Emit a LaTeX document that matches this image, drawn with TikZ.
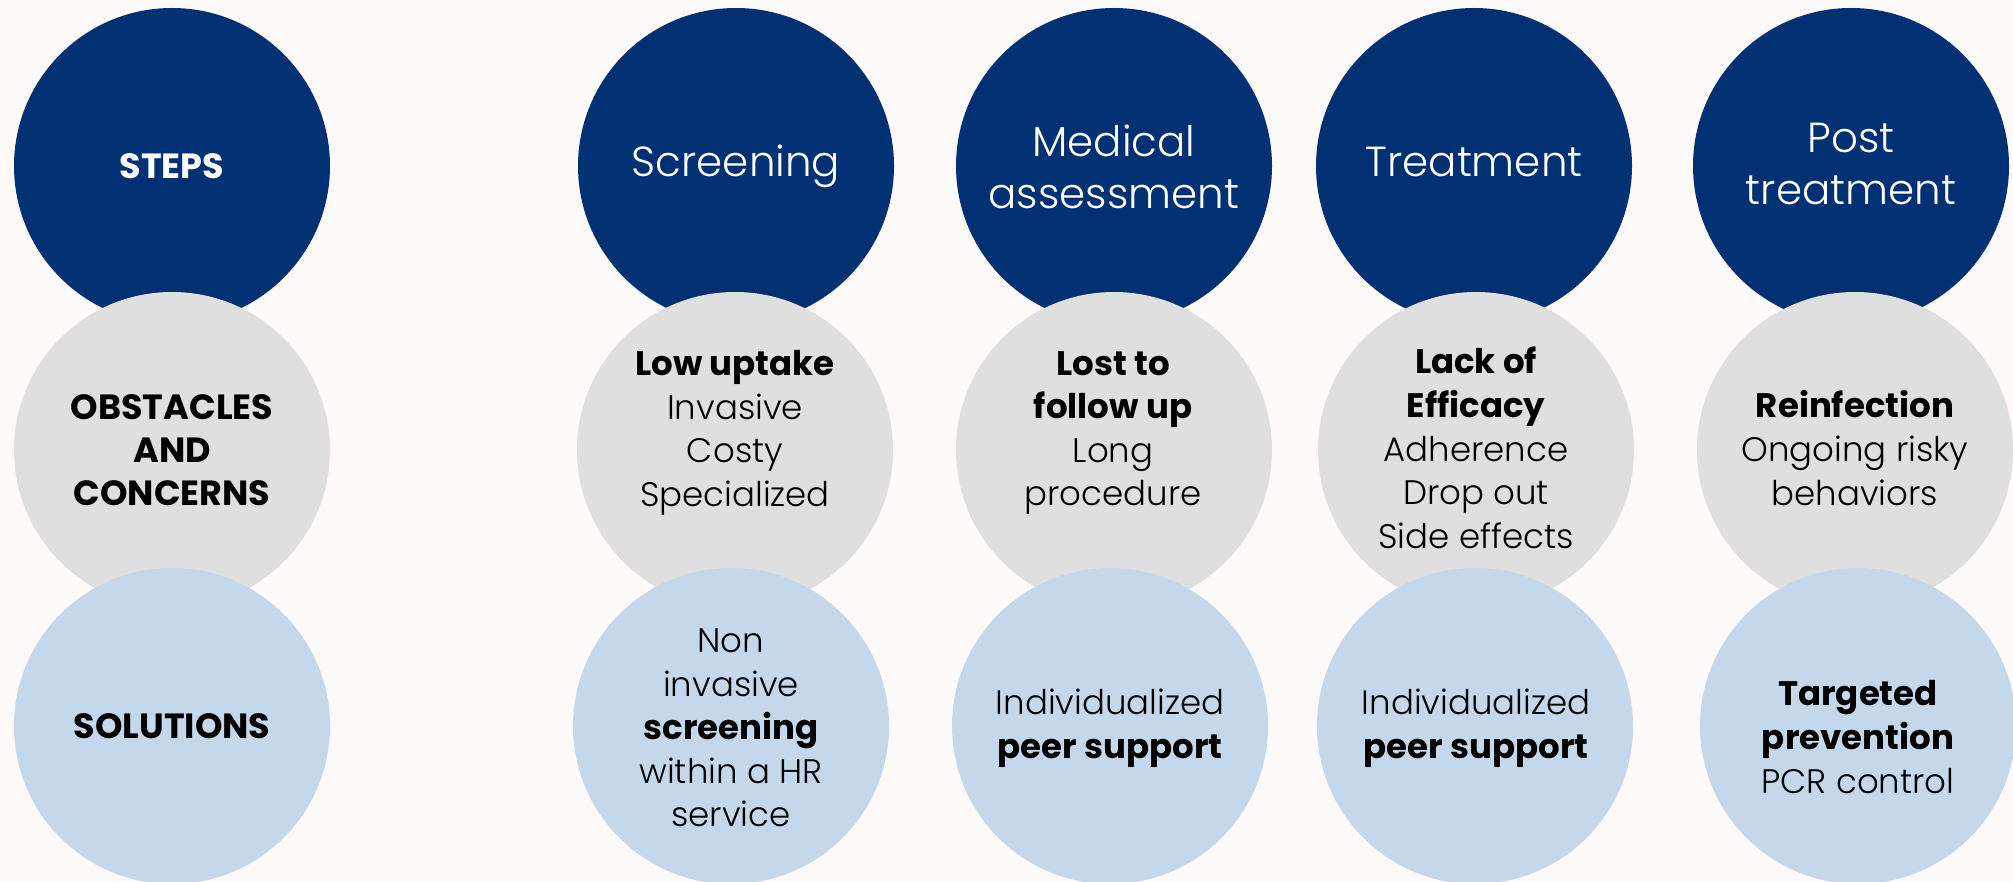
\documentclass[tikz,border=0pt]{standalone}
\usepackage{fontspec}
\setmainfont{Poppins}[UprightFont=* Light, BoldFont=* Bold]
\usetikzlibrary{positioning}

\definecolor{stepblue}{HTML}{023173}
\definecolor{obstgray}{HTML}{DFDFDF}
\definecolor{solblue}{HTML}{C5D8EB}
\definecolor{pagebg}{HTML}{FEFAF9}

\tikzset{
	disc/.style={circle, minimum size=158pt, inner sep=0pt},
	stepdisc/.style={disc, fill=stepblue},
	obstdisc/.style={disc, fill=obstgray},
	soldisc/.style={disc, fill=solblue},
	rowhead/.style={align=center, text=black, font=\fontsize{17.5}{21.5}\selectfont\bfseries},
	steptxt/.style={align=center, text=white, font=\fontsize{21}{26}\selectfont},
	celltxt/.style={align=center, text=black, font=\fontsize{17}{21.8}\selectfont},
}

\begin{document}
\begin{tikzpicture}[x=0.5pt, y=-0.5pt]
		\fill[pagebg] (0,0) rectangle (2013,882);
		\useasboundingbox (0,0) rectangle (2013,882);

		% top row: the steps
		\node[stepdisc] (steps)  at (172,166)  {};
		\node[stepdisc] (screen) at (736,166)  {};
		\node[stepdisc] (assess) at (1114,166) {};
		\node[stepdisc] (treat)  at (1474,166) {};
		\node[stepdisc] (post)   at (1851,166) {};

		% middle row: obstacles
		\node[obstdisc] (obst)       at (172,450)  {};
		\node[obstdisc] (obstscreen) at (735,450)  {};
		\node[obstdisc] (obstassess) at (1114,450) {};
		\node[obstdisc] (obsttreat)  at (1476,450) {};
		\node[obstdisc] (obstpost)   at (1855,450) {};

		% bottom row: solutions
		\node[soldisc] (sol)       at (172,726)  {};
		\node[soldisc] (solscreen) at (731,726)  {};
		\node[soldisc] (solassess) at (1110,726) {};
		\node[soldisc] (soltreat)  at (1475,726) {};
		\node[soldisc] (solpost)   at (1858,726) {};

		% row headings
		\node[rowhead, text=white] (stepslbl) at (steps) {STEPS};
		\node[rowhead] (obstlbl) at (obst) {OBSTACLES\\AND\\CONCERNS};
		\node[rowhead] (sollbl)  at (sol)  {SOLUTIONS};

		\node[steptxt] (screenlbl) at (screen)      {Screening};
		\node[steptxt] (assesslbl) at (1114,167)    {Medical\\assessment};
		\node[steptxt] (treatlbl)  at (1474,162)    {Treatment};
		\node[steptxt] (postlbl)   at (1851,164)    {Post\\treatment};

		\node[celltxt] (obstscreenlbl) at (735,433)  {\textbf{Low uptake}\\Invasive\\Costy\\Specialized};
		\node[celltxt] (obstassesslbl) at (1113,433) {\textbf{Lost to}\\\textbf{follow up}\\Long\\procedure};
		\node[celltxt] (obsttreatlbl)  at (1476,448) {\textbf{Lack of}\\\textbf{Efficacy}\\Adherence\\Drop out\\Side effects};
		\node[celltxt] (obstpostlbl)   at (1855,448) {\textbf{Reinfection}\\Ongoing risky\\behaviors};

		\node[celltxt] (solscreenlbl) at (731,728)  {Non\\invasive\\\textbf{screening}\\within a HR\\service};
		\node[celltxt] (solassesslbl) at (1110,728) {Individualized\\\textbf{peer support}};
		\node[celltxt] (soltreatlbl)  at (1476,728) {Individualized\\\textbf{peer support}};
		\node[celltxt] (solpostlbl)   at (1858,737) {\textbf{Targeted}\\\textbf{prevention}\\PCR control};
	\end{tikzpicture}
\end{document}
